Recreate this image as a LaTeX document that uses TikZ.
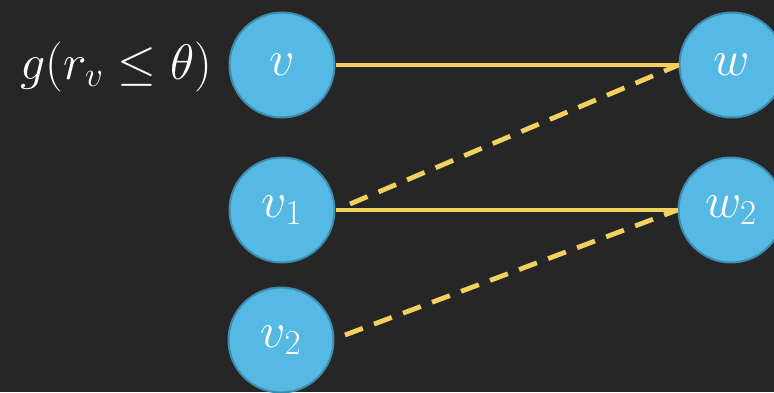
\documentclass[tikz,border=0pt]{standalone}
\usepackage{fix-cm}
\begin{document}
\begin{tikzpicture}[x=1pt,y=-1pt,
  vert/.style={circle, draw=vborder, line width=2pt, fill=vfill, minimum size=105pt, inner sep=0pt, text=white, font=\fontsize{50}{56}\selectfont},
  solidedge/.style={draw=edgeyellow, line width=4.8pt},
  dashedge/.style={draw=edgeyellow, line width=4.8pt, dash pattern=on 19pt off 12pt},
  lbl/.style={text=white, font=\fontsize{50}{56}\selectfont, inner sep=0pt}]
\definecolor{vfill}{HTML}{56B9E3}
\definecolor{vborder}{HTML}{3C8CB0}
\definecolor{edgeyellow}{HTML}{F2D160}
\definecolor{board}{HTML}{262626}
\useasboundingbox (0,0) rectangle (774,392);
\fill[board] (0,0) rectangle (774,392);
\node[vert] (v) at (282,65) {$v$};
\node[vert] (v1) at (282,210) {$v_1$};
\node[vert] (v2) at (281,340) {$v_2$};
\node[vert] (w) at (732,65) {$w$};
\node[vert] (w2) at (731,210) {$w_2$};
\node[lbl, anchor=base] (g) at (116,79) {$g(r_v \leq \theta)$};
\coordinate (s1) at (350,204);
\coordinate (s2) at (345,335);
\draw[solidedge] (v.east) -- (w.west);
\draw[solidedge] (v1.east) -- (w2.west);
\draw[dashedge] (s1) -- (w.west);
\draw[dashedge] (s2) -- (w2.west);
\end{tikzpicture}
\end{document}
